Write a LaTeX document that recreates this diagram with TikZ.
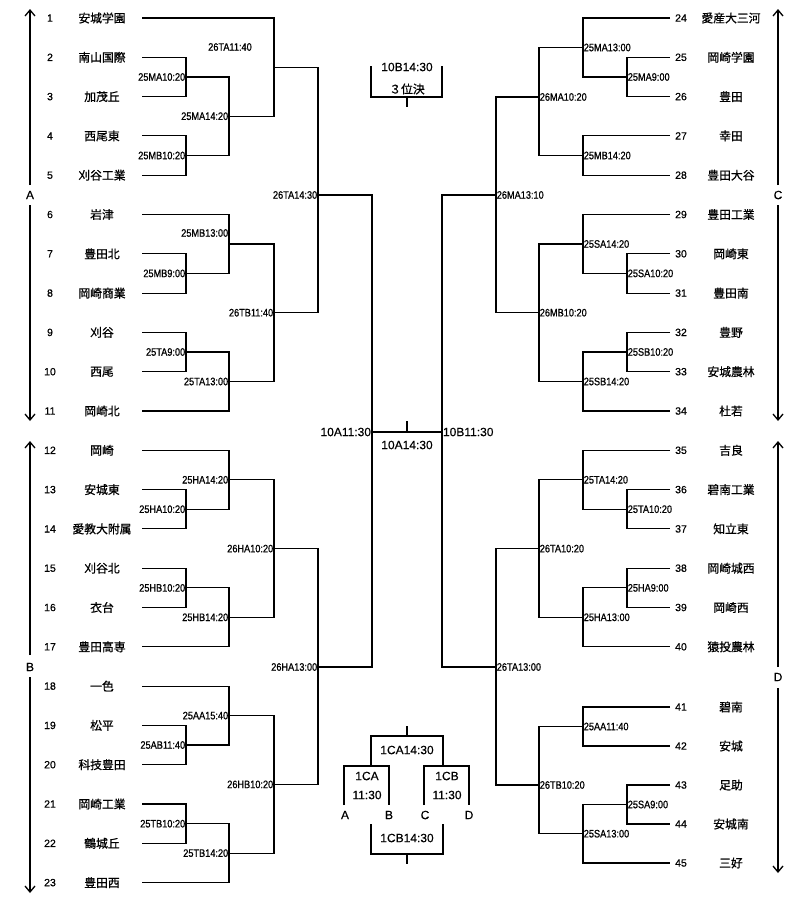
\documentclass[tikz,border=0pt]{standalone}
\usepackage{fontspec}
\usetikzlibrary{arrows.meta}
\setmainfont{Liberation Sans}
\newfontfamily\jpfam[FakeBold=0.8]{Noto Sans CJK JP}
\newfontfamily\labfam[FakeStretch=0.85,FakeBold=0.8]{Liberation Sans}
\newfontfamily\numfam[FakeBold=0.7]{Liberation Sans}
\newfontfamily\bigfam[FakeBold=0.4]{Liberation Sans}
\newcommand{\numfont}{\numfam\fontsize{10.5}{12}\selectfont}
\newcommand{\teamfont}{\jpfam\fontsize{11.8}{13}\selectfont}
\newcommand{\labfont}{\labfam\fontsize{10.8}{12}\selectfont}
\newcommand{\bigfont}{\bigfam\fontsize{12}{14}\selectfont}
\tikzset{
  ln/.style={line width=1.1pt},
  num/.style={font=\numfont, inner sep=0pt},
  team/.style={font=\teamfont, inner sep=0pt},
  labl/.style={font=\labfont, inner sep=0.6pt, anchor=east},
  labr/.style={font=\labfont, inner sep=0.6pt, anchor=west},
  labc/.style={font=\labfont, inner sep=0pt},
  big/.style={font=\bigfont, inner sep=0pt},
  bigl/.style={font=\bigfont, inner sep=0.8pt, anchor=east},
  bigr/.style={font=\bigfont, inner sep=0.8pt, anchor=west},
  arr/.style={line width=1.3pt, -{Straight Barb[length=6pt,width=10pt]}},
}
\begin{document}
\begin{tikzpicture}[x=1pt,y=-1pt]
\useasboundingbox (0,0) rectangle (800,903);
% ---------- left teams ----------
\foreach \i/\y/\t in {1/18/安城学園,2/57.3/南山国際,3/96.6/加茂丘,4/135.9/西尾東,5/175.2/刈谷工業,
  6/214.5/岩津,7/253.8/豊田北,8/293.1/岡崎商業,9/332.4/刈谷,10/371.7/西尾,11/411/岡崎北,
  12/450.3/岡崎,13/489.6/安城東,14/528.9/愛教大附属,15/568.2/刈谷北,16/607.5/衣台,17/646.8/豊田高専,
  18/686.1/一色,19/725.4/松平,20/764.7/科技豊田,21/804/岡崎工業,22/843.3/鶴城丘,23/882.6/豊田西}
{
  \coordinate (L\i) at (142,\y);
  \node[num] (n\i) at (50,\y) {\i};
  \node[team] (t\i) at (102,\y) {\t};
}
% ---------- right teams ----------
\foreach \i/\y/\t in {24/18/愛産大三河,25/57.3/岡崎学園,26/96.6/豊田,27/135.9/幸田,28/175.2/豊田大谷,
  29/214.5/豊田工業,30/253.8/岡崎東,31/293.1/豊田南,32/332.4/豊野,33/371.7/安城農林,34/411/杜若,
  35/450.3/吉良,36/489.6/碧南工業,37/528.9/知立東,38/568.2/岡崎城西,39/607.5/岡崎西,40/646.8/猿投農林,
  41/707/碧南,42/746/安城,43/785/足助,44/824/安城南,45/863/三好}
{
  \coordinate (R\i) at (670,\y);
  \node[num] (n\i) at (681,\y) {\i};
  \node[team] (t\i) at (731,\y) {\t};
}
% ---------- left junctions ----------
\coordinate (a1) at (186,77);
\coordinate (a2) at (186,155.5);
\coordinate (b1) at (229,116.2);
\coordinate (c1) at (274,67.1);
\coordinate (a3) at (186,273.4);
\coordinate (b2) at (229,244);
\coordinate (a4) at (186,352);
\coordinate (b3) at (229,381.5);
\coordinate (c2) at (274,312.7);
\coordinate (d1) at (318,195);
\coordinate (a5) at (186,509.2);
\coordinate (b4) at (229,479.8);
\coordinate (a6) at (186,587.9);
\coordinate (b5) at (229,617.3);
\coordinate (c3) at (274,548.6);
\coordinate (a7) at (186,745);
\coordinate (b6) at (229,715.6);
\coordinate (a8) at (186,823.7);
\coordinate (b7) at (229,853.1);
\coordinate (c4) at (274,784.4);
\coordinate (d2) at (318,667);
\coordinate (sfl) at (372,432);
\coordinate (sfr) at (442,432);
\coordinate (sfm) at (407,432);
\coordinate (sft) at (407,421);
% ---------- right junctions ----------
\coordinate (ra1) at (627,77);
\coordinate (rb1) at (583,47.5);
\coordinate (rb2) at (583,155.5);
\coordinate (rc1) at (539,97);
\coordinate (ra2) at (627,273.4);
\coordinate (rb3) at (583,244);
\coordinate (ra3) at (627,352);
\coordinate (rb4) at (583,381.5);
\coordinate (rc2) at (539,312.7);
\coordinate (rd1) at (496,195);
\coordinate (ra4) at (627,509.2);
\coordinate (rb5) at (583,479.8);
\coordinate (ra5) at (627,587.9);
\coordinate (rb6) at (583,617.3);
\coordinate (rc3) at (539,548.6);
\coordinate (rb7) at (583,726.5);
\coordinate (ra6) at (627,804.5);
\coordinate (rb8) at (583,833.7);
\coordinate (rc4) at (539,785);
\coordinate (rd2) at (496,667);
% ---------- left bracket lines ----------
\draw[ln] (L1) -| (c1) |- (b1);
\draw[ln] (L2) -| (a1) |- (L3);
\draw[ln] (L4) -| (a2) |- (L5);
\draw[ln] (a1) -| (b1) |- (a2);
\draw[ln] (L6) -| (b2) |- (a3);
\draw[ln] (L7) -| (a3) |- (L8);
\draw[ln] (L9) -| (a4) |- (L10);
\draw[ln] (a4) -| (b3) |- (L11);
\draw[ln] (b2) -| (c2) |- (b3);
\draw[ln] (c1) -| (d1) |- (c2);
\draw[ln] (L12) -| (b4) |- (a5);
\draw[ln] (L13) -| (a5) |- (L14);
\draw[ln] (L15) -| (a6) |- (L16);
\draw[ln] (a6) -| (b5) |- (L17);
\draw[ln] (b4) -| (c3) |- (b5);
\draw[ln] (L18) -| (b6) |- (a7);
\draw[ln] (L19) -| (a7) |- (L20);
\draw[ln] (L21) -| (a8) |- (L22);
\draw[ln] (a8) -| (b7) |- (L23);
\draw[ln] (b6) -| (c4) |- (b7);
\draw[ln] (c3) -| (d2) |- (c4);
\draw[ln] (d1) -| (sfl) |- (d2);
\draw[ln] (sfl) -- (sfr);
\draw[ln] (sfm) -- (sft);
% ---------- right bracket lines ----------
\draw[ln] (R24) -| (rb1) |- (ra1);
\draw[ln] (R25) -| (ra1) |- (R26);
\draw[ln] (R27) -| (rb2) |- (R28);
\draw[ln] (rb1) -| (rc1) |- (rb2);
\draw[ln] (R29) -| (rb3) |- (ra2);
\draw[ln] (R30) -| (ra2) |- (R31);
\draw[ln] (R32) -| (ra3) |- (R33);
\draw[ln] (ra3) -| (rb4) |- (R34);
\draw[ln] (rb3) -| (rc2) |- (rb4);
\draw[ln] (rc1) -| (rd1) |- (rc2);
\draw[ln] (R35) -| (rb5) |- (ra4);
\draw[ln] (R36) -| (ra4) |- (R37);
\draw[ln] (R38) -| (ra5) |- (R39);
\draw[ln] (ra5) -| (rb6) |- (R40);
\draw[ln] (rb5) -| (rc3) |- (rb6);
\draw[ln] (R41) -| (rb7) |- (R42);
\draw[ln] (R43) -| (ra6) |- (R44);
\draw[ln] (ra6) -| (rb8) |- (R45);
\draw[ln] (rb7) -| (rc4) |- (rb8);
\draw[ln] (rc3) -| (rd2) |- (rc4);
\draw[ln] (rd1) -| (sfr) |- (rd2);
% ---------- left labels ----------
\node[labl] (l1) at (a1) {25MA10:20};
\node[labl] (l2) at (a2) {25MB10:20};
\node[labl] (l3) at (b1) {25MA14:20};
\node[labc] (l4) at (230,47) {26TA11:40};
\node[labl] (l5) at (d1) {26TA14:30};
\node[labl] (l6) at (229,233) {25MB13:00};
\node[labl] (l7) at (a3) {25MB9:00};
\node[labl] (l8) at (a4) {25TA9:00};
\node[labl] (l9) at (b3) {25TA13:00};
\node[labl] (l10) at (c2) {26TB11:40};
\node[labl] (l11) at (a5) {25HA10:20};
\node[labl] (l12) at (b4) {25HA14:20};
\node[labl] (l13) at (a6) {25HB10:20};
\node[labl] (l14) at (b5) {25HB14:20};
\node[labl] (l15) at (c3) {26HA10:20};
\node[labl] (l16) at (d2) {26HA13:00};
\node[labl] (l17) at (a7) {25AB11:40};
\node[labl] (l18) at (b6) {25AA15:40};
\node[labl] (l19) at (a8) {25TB10:20};
\node[labl] (l20) at (b7) {25TB14:20};
\node[labl] (l21) at (c4) {26HB10:20};
% ---------- right labels ----------
\node[labr] (r1) at (ra1) {25MA9:00};
\node[labr] (r2) at (rb1) {25MA13:00};
\node[labr] (r3) at (rb2) {25MB14:20};
\node[labr] (r4) at (rc1) {26MA10:20};
\node[labr] (r5) at (ra2) {25SA10:20};
\node[labr] (r6) at (rb3) {25SA14:20};
\node[labr] (r7) at (ra3) {25SB10:20};
\node[labr] (r8) at (rb4) {25SB14:20};
\node[labr] (r9) at (rc2) {26MB10:20};
\node[labr] (r10) at (rd1) {26MA13:10};
\node[labr] (r11) at (ra4) {25TA10:20};
\node[labr] (r12) at (rb5) {25TA14:20};
\node[labr] (r13) at (ra5) {25HA9:00};
\node[labr] (r14) at (rb6) {25HA13:00};
\node[labr] (r15) at (rc3) {26TA10:20};
\node[labr] (r16) at (rb7) {25AA11:40};
\node[labr] (r17) at (ra6) {25SA9:00};
\node[labr] (r18) at (rb8) {25SA13:00};
\node[labr] (r19) at (rc4) {26TB10:20};
\node[labr] (r20) at (rd2) {26TA13:00};
% ---------- semifinal / final labels ----------
\node[bigl] (sA) at (sfl) {10A11:30};
\node[bigr] (sB) at (sfr) {10B11:30};
\node[big] (fA) at (407,445) {10A14:30};
% ---------- third place ----------
\coordinate (tp1) at (371,66);
\coordinate (tp2) at (371,97);
\coordinate (tp3) at (442,97);
\coordinate (tp4) at (442,66);
\coordinate (tp5) at (407,97);
\coordinate (tp6) at (407,107);
\draw[ln] (tp1) -- (tp2) -- (tp3) -- (tp4);
\draw[ln] (tp5) -- (tp6);
\node[big] (tpa) at (407,67) {10B14:30};
\node[font=\jpfam\fontsize{11.8}{13}\selectfont, inner sep=0pt] (tpb) at (407,89) {３位決};
% ---------- consolation block ----------
\coordinate (q1) at (407,726);
\coordinate (q2) at (407,736);
\coordinate (qLt) at (371,736);
\coordinate (qLb) at (371,766);
\coordinate (qRt) at (443,736);
\coordinate (qRb) at (443,766);
\draw[ln] (q1) -- (q2);
\draw[ln] (qLb) -- (qLt) -- (qRt) -- (qRb);
\coordinate (pA) at (344,805);
\coordinate (pAt) at (344,766);
\coordinate (pBt) at (389,766);
\coordinate (pB) at (389,805);
\coordinate (pC) at (424,805);
\coordinate (pCt) at (424,766);
\coordinate (pDt) at (469,766);
\coordinate (pD) at (469,805);
\draw[ln] (pA) -- (pAt) -- (pBt) -- (pB);
\draw[ln] (pC) -- (pCt) -- (pDt) -- (pD);
\coordinate (w1) at (371,824);
\coordinate (w2) at (371,854);
\coordinate (w3) at (443,854);
\coordinate (w4) at (443,824);
\coordinate (w5) at (407,854);
\coordinate (w6) at (407,864);
\draw[ln] (w1) -- (w2) -- (w3) -- (w4);
\draw[ln] (w5) -- (w6);
\node[big] (cq) at (407,750) {1CA14:30};
\node[big] (ca1) at (367,776) {1CA};
\node[big] (ca2) at (367,795) {11:30};
\node[big] (cb1) at (447,776) {1CB};
\node[big] (cb2) at (447,795) {11:30};
\node[big] (cw) at (407,838) {1CB14:30};
\node[big] (xA) at (345,815) {A};
\node[big] (xB) at (389,815) {B};
\node[big] (xC) at (425,815) {C};
\node[big] (xD) at (469,815) {D};
% ---------- side arrows ----------
\coordinate (ar1) at (30,185); \coordinate (ar2) at (30,9);
\coordinate (ar3) at (30,205); \coordinate (ar4) at (30,421);
\coordinate (ar5) at (30,655); \coordinate (ar6) at (30,441);
\coordinate (ar7) at (30,677); \coordinate (ar8) at (30,893);
\coordinate (ar9) at (778,185); \coordinate (ar10) at (778,9);
\coordinate (ar11) at (778,205); \coordinate (ar12) at (778,421);
\coordinate (ar13) at (778,667); \coordinate (ar14) at (778,441);
\coordinate (ar15) at (778,688); \coordinate (ar16) at (778,873);
\draw[arr] (ar1) -- (ar2);
\draw[arr] (ar3) -- (ar4);
\draw[arr] (ar5) -- (ar6);
\draw[arr] (ar7) -- (ar8);
\draw[arr] (ar9) -- (ar10);
\draw[arr] (ar11) -- (ar12);
\draw[arr] (ar13) -- (ar14);
\draw[arr] (ar15) -- (ar16);
\node[big] (gA) at (30,195) {A};
\node[big] (gB) at (30,667) {B};
\node[big] (gC) at (778,195) {C};
\node[big] (gD) at (778,677) {D};
\end{tikzpicture}
\end{document}
